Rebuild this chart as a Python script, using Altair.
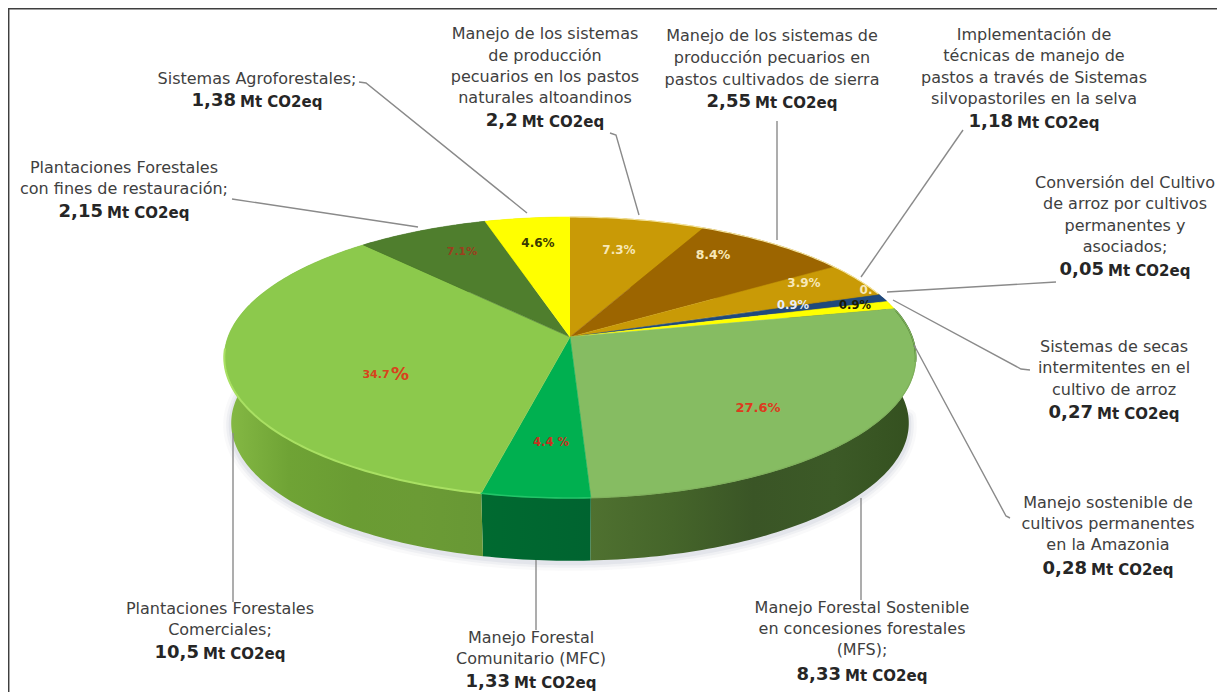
import math
import altair as alt
import pandas as pd

# ---------- values ----------
names = ["Pecuarios altoandinos", "Pecuarios sierra", "Silvopastoriles", "Conversión arroz",
         "Secas intermitentes", "Cultivos permanentes", "MFS", "MFC",
         "Plantaciones comerciales", "Plantaciones restauración", "Agroforestales"]
values = [2.2, 2.55, 1.18, 0.05, 0.27, 0.28, 8.33, 1.33, 10.5, 2.15, 1.38]
top_colors = ["#c99a06", "#9c6500", "#c99a06", "#c99a06", "#1f497d", "#ffff00",
              "#86bc62", "#00b050", "#8cc94c", "#4f7e2d", "#ffff00"]
wall_stops = [["#a87f05", "#a87f05"], ["#7a5000", "#7a5000"], ["#a87f05", "#a87f05"], ["#a87f05", "#a87f05"],
              ["#17375e", "#17375e"], ["#bfbf00", "#bfbf00"],
              ["#4f7130", "#45652a", "#3a5526", "#3c5a27", "#34501f"],
              ["#006a30", "#006430"],
              ["#86ba45", "#6fa335", "#6a9c33", "#6b9b35", "#689835"],
              ["#3b5f22", "#3b5f22"], ["#bfbf00", "#bfbf00"]]

pct_texts = ["7.3%", "8.4%", "3.9%", "0.", "0.9%", "0.9%", "27.6%", "4.4 %", "34.7", "%", "7.1%", "4.6%"]
pct_colors = ["#f7e8b8", "#f7e8b8", "#f7e8b8", "#f7e8b8", "#e8eef8", "#1a1a00", "#dd3a1e", "#c8301e",
              "#d8431c", "#d8431c", "#9a3f1e", "#3a3a00"]
pct_x = [619, 713, 804, 866, 793, 855, 758, 551, 376, 400, 462, 538]
pct_y = [250, 255, 283, 290, 306, 306, 408, 443, 375, 375, 252, 243]
pct_size = [12, 12.5, 12, 12, 11.5, 11.5, 13, 11.5, 11, 18, 11, 12]

label_lines = [
    (257, [79], ["Sistemas Agroforestales;"], 101, "1,38"),
    (124, [168, 189], ["Plantaciones Forestales", "con fines de restauración;"], 212, "2,15"),
    (545, [34, 56, 77, 98], ["Manejo de los sistemas", "de producción", "pecuarios en los pastos", "naturales altoandinos"], 121, "2,2"),
    (772, [36, 58, 80], ["Manejo de los sistemas de", "producción pecuarios en", "pastos cultivados de sierra"], 102, "2,55"),
    (1034, [35, 56, 78, 99], ["Implementación de", "técnicas de manejo de", "pastos a través de Sistemas", "silvopastoriles en la selva"], 122, "1,18"),
    (1125, [183, 204, 226, 247], ["Conversión del Cultivo", "de arroz por cultivos", "permanentes y", "asociados;"], 270, "0,05"),
    (1114, [347, 368, 390], ["Sistemas de secas", "intermitentes en el", "cultivo de arroz"], 413, "0,27"),
    (1108, [503, 524, 545], ["Manejo sostenible de", "cultivos permanentes", "en la Amazonia"], 569, "0,28"),
    (862, [608, 629, 650], ["Manejo Forestal Sostenible", "en concesiones forestales", "(MFS);"], 675, "8,33"),
    (531, [638, 659], ["Manejo Forestal", "Comunitario (MFC)"], 682, "1,33"),
    (220, [609, 630], ["Plantaciones Forestales", "Comerciales;"], 653, "10,5"),
]
leaders = [
    [(359, 82), (366, 83), (527, 213)],
    [(232, 199), (418, 227)],
    [(610, 133), (616, 135), (639, 215)],
    [(777, 121), (777, 240)],
    [(963, 130), (861, 277)],
    [(1056, 282), (887, 292)],
    [(1030, 370), (1021, 369), (893, 300)],
    [(1010, 518), (1006, 516), (914, 345)],
    [(861, 498), (861, 600)],
    [(536, 560), (536, 630)],
    [(233, 433), (233, 602)],
]

# ---------- layout ----------
W, H = 1209, 684
CX, CY = 570, 337
A, B, K = 342, 137.5, -0.146
DEPTH_SCALE, DEPTH_Y = 0.98, 66
FONT = "DejaVu Sans"

xs = alt.Scale(domain=[8, 8 + W], range=[0, W], nice=False, zero=False)
ys = alt.Scale(domain=[8, 8 + H], range=[0, H], nice=False, zero=False)
X = alt.X("x:Q", scale=xs, axis=None)
Y = alt.Y("y:Q", scale=ys, axis=None)


def rim(deg, s=1.0, dy=0.0):
    t = math.radians(deg)
    px, py = math.sin(t), -math.cos(t)
    w = 1 + K * py
    return CX + s * A * px / w, CY + dy + s * B * py / w


total = sum(values)
edges = [0.0]
for v in values:
    edges.append(edges[-1] + v / total * 360)


def arc(a0, a1, s=1.0, dy=0.0):
    n = max(2, int(abs(a1 - a0)) + 2)
    return [rim(a0 + (a1 - a0) * j / (n - 1), s, dy) for j in range(n)]


def poly_layer(pts, fill, stroke=None, sw=0.6):
    df = pd.DataFrame({"x": [p[0] for p in pts], "y": [p[1] for p in pts], "i": range(len(pts))})
    return alt.Chart(df).mark_line(fill=fill, stroke=stroke if stroke else (fill if isinstance(fill, str) else "transparent"),
                                   strokeWidth=sw, interpolate="linear").encode(x=X, y=Y, order=alt.Order("i:Q"))


def line_layer(pts, color, sw, opacity=1.0):
    df = pd.DataFrame({"x": [p[0] for p in pts], "y": [p[1] for p in pts], "i": range(len(pts))})
    return alt.Chart(df).mark_line(stroke=color, strokeWidth=sw, opacity=opacity, interpolate="linear",
                                   strokeCap="round").encode(x=X, y=Y, order=alt.Order("i:Q"))


layers = []

# frame
layers.append(line_layer([(8.7, 8 + H), (8.7, 8.7), (8 + W, 8.7)], "#3f3f3f", 1.5))

# soft shadow
for w_, op in [(16, 0.04), (10, 0.06), (5, 0.08)]:
    layers.append(line_layer(arc(95, 280, DEPTH_SCALE, DEPTH_Y + 2), "#5a6a8a", w_, op))

# walls
for i in range(len(values)):
    top = arc(edges[i], edges[i + 1])
    bot = arc(edges[i], edges[i + 1], DEPTH_SCALE, DEPTH_Y)
    stops = wall_stops[i]
    n = len(stops) - 1
    grad = alt.Gradient(gradient="linear", x1=0, y1=0, x2=1, y2=0,
                        stops=[alt.GradientStop(offset=j / n, color=c) for j, c in enumerate(stops)])
    layers.append(poly_layer(top + bot[::-1], grad))

# top face
for i in range(len(values)):
    pts = [(CX, CY)] + arc(edges[i], edges[i + 1])
    layers.append(poly_layer(pts, top_colors[i]))

# rim bevel
layers.append(line_layer(arc(edges[8], 265), "#a9e063", 2))
layers.append(line_layer(arc(edges[7], edges[8]), "#22c468", 1.6))
layers.append(line_layer(arc(edges[6] + 1, 100), "#3f6b2a", 1.6))
layers.append(line_layer(arc(edges[6], edges[7]), "#7fb05c", 1.2))
layers.append(line_layer(arc(0, edges[3]), "#f5e6a0", 1.1))

# leaders
rows = []
for k, pts in enumerate(leaders):
    for j, (lx, ly) in enumerate(pts):
        rows.append({"x": lx, "y": ly, "k": k, "i": j})
layers.append(alt.Chart(pd.DataFrame(rows)).mark_line(stroke="#8a8a8a", strokeWidth=1.4).encode(
    x=X, y=Y, detail="k:N", order=alt.Order("i:Q")))

# percentages on the slices
pct_df = pd.DataFrame({"x": pct_x, "y": pct_y, "t": pct_texts, "c": pct_colors, "s": pct_size})
layers.append(alt.Chart(pct_df).mark_text(font=FONT, fontWeight="bold", baseline="middle", align="center").encode(
    x=X, y=Y, text="t:N", color=alt.Color("c:N", scale=None),
    size=alt.Size("s:Q", scale=None)))

# descriptive labels
txt = []
val_n, val_u = [], []
UNIT = "Mt CO2eq"
for cx, ylist, lines, vy, num in label_lines:
    for yy, line in zip(ylist, lines):
        txt.append({"x": cx, "y": yy, "t": line})
    num_w = sum(0.38 * 18 if ch == "," else 0.696 * 18 for ch in num)
    unit_w = 5.5 * 15
    tot = num_w + 4 + unit_w
    left = cx - tot / 2
    val_n.append({"x": left + num_w, "y": vy, "t": num})
    val_u.append({"x": left + num_w + 4, "y": vy + 0.5, "t": UNIT})

layers.append(alt.Chart(pd.DataFrame(txt)).mark_text(font=FONT, fontSize=16, color="#404040", baseline="middle",
                                                     align="center").encode(x=X, y=Y, text="t:N"))
layers.append(alt.Chart(pd.DataFrame(val_n)).mark_text(font=FONT, fontSize=18, fontWeight="bold", color="#262626",
                                                       baseline="middle", align="right").encode(x=X, y=Y, text="t:N"))
layers.append(alt.Chart(pd.DataFrame(val_u)).mark_text(font=FONT, fontSize=15, fontWeight="bold", color="#262626",
                                                       baseline="middle", align="left").encode(x=X, y=Y, text="t:N"))

chart = alt.layer(*layers).properties(
    width=W, height=H, padding=0, background="white",
    autosize=alt.AutoSizeParams(type="none"),
).configure_view(stroke=None)

chart.save("out.html", embed_options={"renderer": "svg", "actions": False})
